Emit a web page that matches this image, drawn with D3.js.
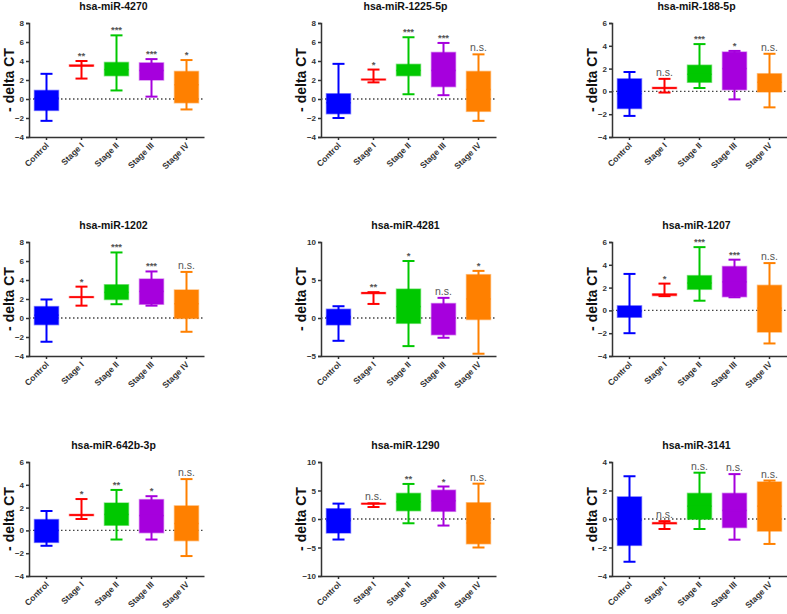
<!DOCTYPE html>
<html><head><meta charset="utf-8">
<script src="https://cdn.jsdelivr.net/npm/d3@7"></script>
<style>body{margin:0;background:#fff} svg{display:block}</style>
</head><body>
<svg id="c" width="787" height="614"></svg>
<script>
const categories = ["Control", "Stage I", "Stage II", "Stage III", "Stage IV"];
const colors = ["#0000ff", "#ff0000", "#00c800", "#a600dd", "#ff8000"];
const titles = ["hsa-miR-4270", "hsa-miR-1225-5p", "hsa-miR-188-5p",
                "hsa-miR-1202", "hsa-miR-4281", "hsa-miR-1207",
                "hsa-miR-642b-3p", "hsa-miR-1290", "hsa-miR-3141"];
const yMin = [-4, -4, -4, -4, -5, -4, -4, -10, -4];
const yMax = [8, 8, 6, 8, 10, 6, 6, 10, 4];
const yStep = [2, 2, 2, 2, 5, 2, 2, 5, 2];
const yLabel = "- delta CT";

const whiskerLow = [
  [-2.3, 2.15, 0.9, 0.25, -1.1],
  [-2.0, 1.75, 0.5, 0.4, -2.3],
  [-2.15, -0.1, 0.3, -0.7, -1.4],
  [-2.5, 1.3, 1.45, 1.3, -1.45],
  [-3.0, 1.85, -3.7, -2.6, -4.7],
  [-2.0, 1.25, 0.85, 1.15, -2.9],
  [-1.35, 1.0, -0.8, -0.8, -2.25],
  [-3.6, 2.1, -0.75, -1.15, -5.0],
  [-3.0, -0.7, -0.7, -1.45, -1.75]
];
const q1 = [
  [-1.2, 3.45, 2.45, 2.0, -0.4],
  [-1.55, 2.0, 2.45, 1.3, -1.3],
  [-1.5, 0.25, 0.8, 0.15, -0.05],
  [-0.7, 2.15, 1.95, 1.45, -0.05],
  [-0.9, 3.2, -0.7, -2.2, -0.2],
  [-0.6, 1.3, 1.85, 1.2, -1.9],
  [-1.05, 1.3, 0.45, -0.2, -0.9],
  [-2.45, 2.6, 1.45, 1.35, -4.35],
  [-1.85, -0.35, -0.02, -0.6, -0.85]
];
const median = [
  [0.1, 3.5, 3.1, 3.0, 1.5],
  [-0.4, 2.05, 3.0, 3.0, 1.0],
  [-0.2, 0.3, 1.5, 2.0, 0.8],
  [0.3, 2.2, 2.7, 2.8, 1.5],
  [0.2, 3.3, 1.5, 0.0, 2.5],
  [-0.1, 1.4, 2.4, 2.5, 0.2],
  [0.0, 1.35, 1.4, 1.3, 0.6],
  [-0.3, 2.7, 3.0, 3.2, -0.7],
  [-0.1, -0.3, 0.9, 0.6, 0.9]
];
const q3 = [
  [0.9, 3.6, 3.85, 3.8, 2.9],
  [0.55, 2.1, 3.65, 4.9, 2.9],
  [1.1, 0.35, 2.3, 3.45, 1.55],
  [1.2, 2.25, 3.5, 4.1, 2.95],
  [1.15, 3.35, 3.8, 1.9, 5.7],
  [0.4, 1.45, 3.05, 3.85, 2.2],
  [0.95, 1.4, 2.4, 2.7, 2.15],
  [1.8, 2.75, 4.5, 5.05, 2.85],
  [1.55, -0.25, 1.8, 1.8, 2.6]
];
const whiskerHigh = [
  [2.65, 4.0, 6.7, 4.2, 4.1],
  [3.7, 3.1, 6.5, 5.9, 4.7],
  [1.7, 1.1, 4.15, 3.55, 3.3],
  [1.95, 3.3, 6.9, 4.9, 4.85],
  [1.55, 3.4, 7.5, 2.65, 6.2],
  [3.2, 2.35, 5.55, 4.45, 4.15],
  [1.7, 2.75, 3.55, 3.0, 4.5],
  [2.7, 2.75, 6.15, 5.7, 6.2],
  [3.0, -0.15, 3.25, 3.15, 2.7]
];
const sigLabels = [
  ["", "**", "***", "***", "*"],
  ["", "*", "***", "***", "n.s."],
  ["", "n.s.", "***", "*", "n.s."],
  ["", "*", "***", "***", "n.s."],
  ["", "**", "*", "n.s.", "*"],
  ["", "*", "***", "***", "n.s."],
  ["", "*", "**", "*", "n.s."],
  ["", "n.s.", "**", "*", "n.s."],
  ["", "n.s.", "n.s.", "n.s.", "n.s."]
];

const colX = [29, 321, 612];
const rowY = [23, 242, 462];
const plotW = 175, plotH = 114;
const font = "Arial, 'Liberation Sans', Helvetica, sans-serif";

const svg = d3.select("#c");

titles.forEach((title, p) => {
  const col = p % 3, row = Math.floor(p / 3);
  const g = svg.append("g").attr("transform", `translate(${colX[col]},${rowY[row]})`);
  const x = d3.scaleBand().domain(categories).range([0, plotW]).padding(0);
  const y = d3.scaleLinear().domain([yMin[p], yMax[p]]).range([plotH, 0]);
  const bw = x.bandwidth();
  const boxW = 24, capW = 12;

  // title
  g.append("text").attr("x", plotW / 2 - 3).attr("y", -13)
    .attr("text-anchor", "middle").attr("font-family", font)
    .attr("font-weight", "bold").attr("font-size", 10.5).attr("fill", "#111")
    .text(title);

  // y label
  g.append("text").attr("transform", `translate(-15,${plotH / 2}) rotate(-90)`)
    .attr("text-anchor", "middle").attr("font-family", font)
    .attr("font-weight", "bold").attr("font-size", 14).attr("fill", "#111")
    .text(yLabel);

  // axes
  const yTicks = d3.range(yMin[p], yMax[p] + 0.001, yStep[p]);
  const yAxis = g.append("g").call(d3.axisLeft(y).tickValues(yTicks).tickSize(3).tickPadding(2).tickFormat(d3.format("d")));
  yAxis.select(".domain").attr("stroke", "#333").attr("stroke-width", 1.5);
  yAxis.selectAll(".tick line").attr("stroke", "#333").attr("stroke-width", 1.5);
  yAxis.selectAll(".tick text").attr("font-family", font).attr("font-weight", "bold")
    .attr("font-size", 8).attr("fill", "#333");

  const xAxis = g.append("g").attr("transform", `translate(0,${plotH})`)
    .call(d3.axisBottom(x).tickSize(3).tickSizeOuter(0));
  xAxis.select(".domain").attr("stroke", "#333").attr("stroke-width", 1.5);
  xAxis.selectAll(".tick line").attr("stroke", "#333").attr("stroke-width", 1.5);
  xAxis.selectAll(".tick text").attr("font-family", font).attr("font-weight", "bold")
    .attr("font-size", 8.5).attr("fill", "#333")
    .attr("text-anchor", "end").attr("dy", null).attr("y", 0)
    .attr("transform", "translate(3,9) rotate(-45)");

  // zero dotted line
  g.append("line").attr("x1", 0).attr("x2", plotW).attr("y1", y(0)).attr("y2", y(0))
    .attr("stroke", "#444").attr("stroke-width", 1.3).attr("stroke-dasharray", "1.5,2.5");

  // boxes
  categories.forEach((c, i) => {
    const cx = x(c) + bw / 2;
    const col = colors[i];
    const bg = g.append("g");
    // whiskers
    bg.append("line").attr("x1", cx).attr("x2", cx)
      .attr("y1", y(whiskerLow[p][i])).attr("y2", y(whiskerHigh[p][i]))
      .attr("stroke", col).attr("stroke-width", 2);
    [whiskerLow[p][i], whiskerHigh[p][i]].forEach(v => {
      bg.append("line").attr("x1", cx - capW / 2).attr("x2", cx + capW / 2)
        .attr("y1", y(v)).attr("y2", y(v)).attr("stroke", col).attr("stroke-width", 2);
    });
    // box
    bg.append("rect").attr("x", cx - boxW / 2).attr("width", boxW)
      .attr("y", y(q3[p][i])).attr("height", Math.max(0.5, y(q1[p][i]) - y(q3[p][i])))
      .attr("fill", col).attr("stroke", col).attr("stroke-opacity", 0.45).attr("stroke-width", 1.5);
    // median
    bg.append("line").attr("x1", cx - boxW / 2).attr("x2", cx + boxW / 2)
      .attr("y1", y(median[p][i])).attr("y2", y(median[p][i]))
      .attr("stroke", col).attr("stroke-width", 1.5);
    // significance
    const lab = sigLabels[p][i];
    if (lab) {
      const isNS = lab === "n.s.";
      bg.append("text").attr("x", cx).attr("y", y(whiskerHigh[p][i]) + (isNS ? -3 : -2))
        .attr("text-anchor", "middle").attr("font-family", font)
        .attr("font-weight", isNS ? "normal" : "bold")
        .attr("font-size", isNS ? 10.5 : 9.5).attr("fill", "#555").text(lab);
    }
  });
});
</script>
</body></html>
